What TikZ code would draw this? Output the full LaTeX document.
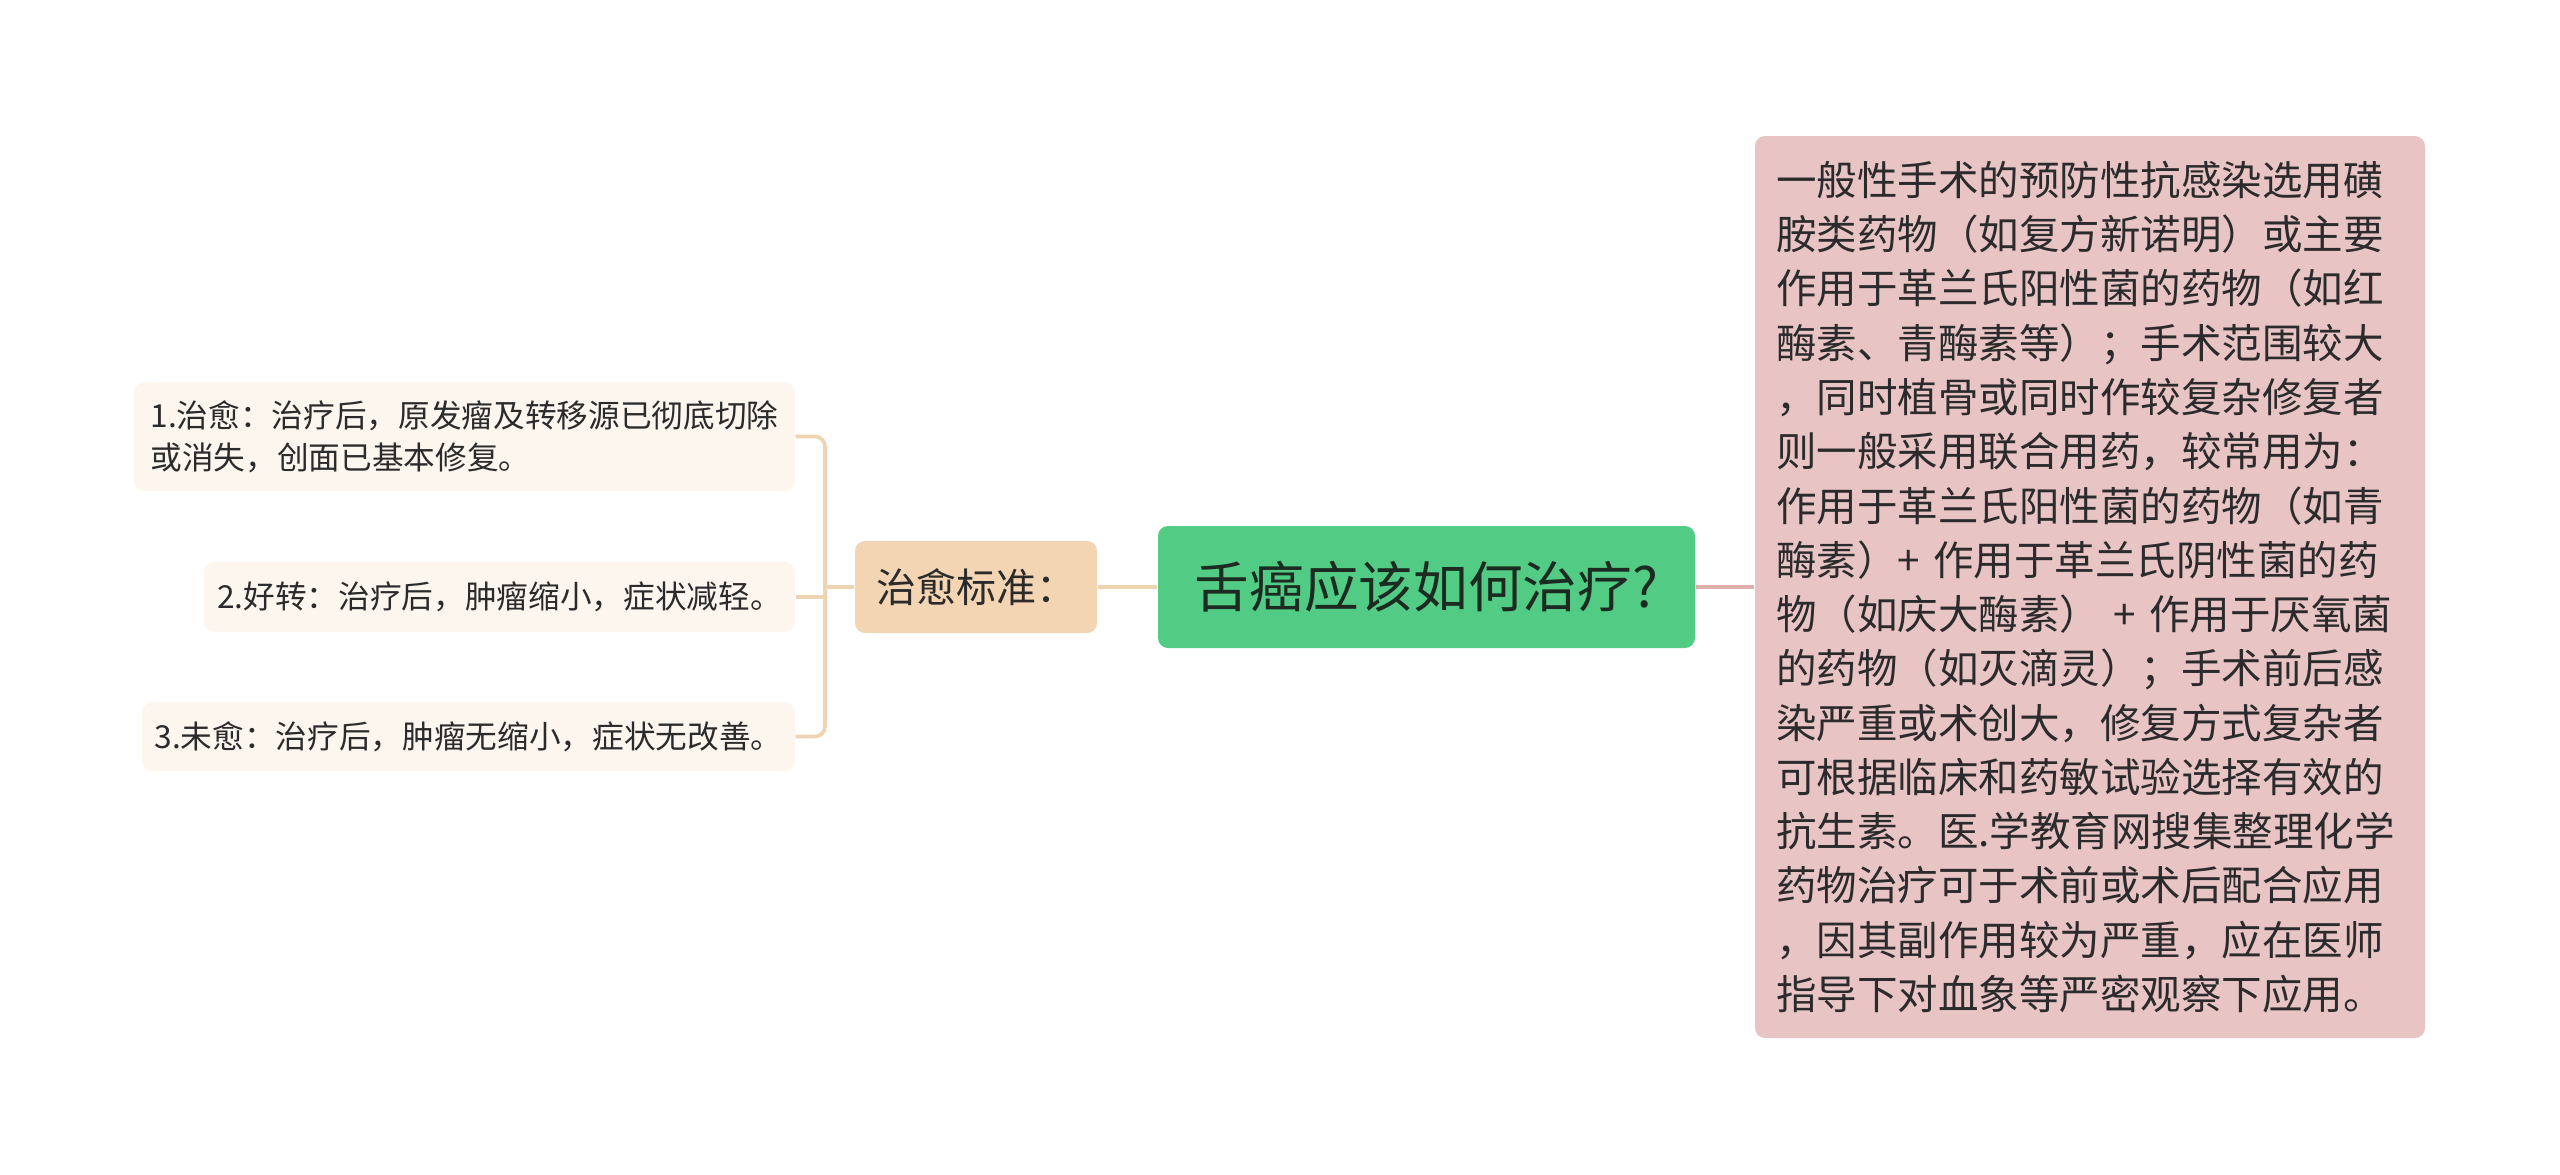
\documentclass[tikz,border=0pt]{standalone}
\usepackage{fontspec}
\setmainfont{Noto Sans CJK SC}
\definecolor{cgreen}{HTML}{52CB84}
\definecolor{ctext}{HTML}{1C2B22}
\definecolor{cbeige}{HTML}{F3D5B4}
\definecolor{cleaf}{HTML}{FDF6EE}
\definecolor{cpink}{HTML}{E8C4C4}
\definecolor{clline}{HTML}{EFD4B4}
\definecolor{crline}{HTML}{DDAFAD}
\definecolor{cdark}{HTML}{2B2B2B}
\tikzset{
  box/.style={rounded corners=3pt, inner sep=0pt, align=center},
  leafbox/.style={box, fill=cleaf, align=left, text=cdark, font=\fontsize{9.5}{12.6}\selectfont},
  lconn/.style={draw=clline, line width=1.1pt},
  rconn/.style={draw=crline, line width=1.1pt}
}
\begin{document}
\begin{tikzpicture}[x=0.3pt,y=-0.3pt]
\useasboundingbox (0,0) rectangle (2560,1174);
\node[box, fill=cgreen, text=ctext, minimum width=161.1pt, minimum height=36.6pt,
  font=\fontsize{16.4}{20}\selectfont] (root) at (1426.5,587) {舌癌应该如何治疗?};
\node[box, fill=cbeige, text=cdark, minimum width=72.6pt, minimum height=27.6pt,
  font=\fontsize{12}{15}\selectfont] (crit) at (976,587) {治愈标准：};
\node[leafbox, minimum width=198.3pt, minimum height=32.7pt] (leaf1) at (464.5,436.5)
  {1.治愈：治疗后，原发瘤及转移源已彻底切除\\或消失，创面已基本修复。};
\node[leafbox, minimum width=177.3pt, minimum height=21pt] (leaf2) at (499.5,597)
  {2.好转：治疗后，肿瘤缩小，症状减轻。};
\node[leafbox, minimum width=195.9pt, minimum height=20.7pt] (leaf3) at (468.5,736.5)
  {3.未愈：治疗后，肿瘤无缩小，症状无改善。};
\node[box, fill=cpink, text=cdark, align=left, text width=188.4pt, inner xsep=6.3pt,
  minimum height=270.6pt, font=\fontsize{12.15}{16.28}\selectfont] (rbox) at (2090,587)
  {一般性手术的预防性抗感染选用磺\\
胺类药物（如复方新诺明）或主要\\
作用于革兰氏阳性菌的药物（如红\\
酶素、青酶素等）；手术范围较大\\
，同时植骨或同时作较复杂修复者\\
则一般采用联合用药，较常用为：\\
作用于革兰氏阳性菌的药物（如青\\
酶素）+ 作用于革兰氏阴性菌的药\\
物（如庆大酶素） + 作用于厌氧菌\\
的药物（如灭滴灵）；手术前后感\\
染严重或术创大，修复方式复杂者\\
可根据临床和药敏试验选择有效的\\
抗生素。医.学教育网搜集整理化学\\
药物治疗可于术前或术后配合应用\\
，因其副作用较为严重，应在医师\\
指导下对血象等严密观察下应用。};
\coordinate (jn) at (825,587);
\draw[lconn] (root.west) -- (crit.east);
\draw[lconn] (crit.west) -- (jn);
\draw[lconn, rounded corners=3pt] (leaf1.east) -- (jn |- leaf1.east) -- (jn |- leaf3.east) -- (leaf3.east);
\draw[lconn] (leaf2.east) -- (jn |- leaf2.east);
\draw[rconn] (root.east) -- (rbox.west);
\end{tikzpicture}
\end{document}
